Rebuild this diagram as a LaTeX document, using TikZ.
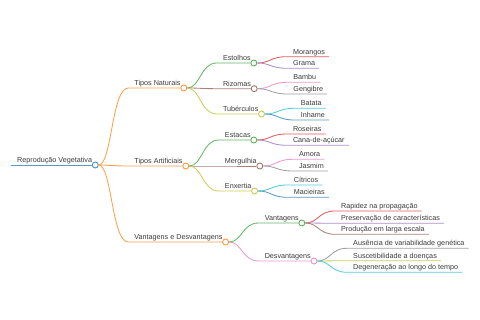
\documentclass[tikz,border=0pt]{standalone}
\usepackage{fontspec}
\setmainfont{Liberation Sans}
\usepackage{tikz}
\usetikzlibrary{positioning}
\definecolor{c0}{HTML}{1F77B4}
\definecolor{c1}{HTML}{FF7F0E}
\definecolor{c2}{HTML}{2CA02C}
\definecolor{c3}{HTML}{D62728}
\definecolor{c4}{HTML}{9467BD}
\definecolor{c5}{HTML}{8C564B}
\definecolor{c6}{HTML}{E377C2}
\definecolor{c7}{HTML}{7F7F7F}
\definecolor{c8}{HTML}{BCBD22}
\definecolor{c9}{HTML}{17BECF}
\definecolor{ink}{HTML}{3A3A3A}
\tikzset{
  lbl/.style={anchor=base west, inner sep=0pt, xshift=6pt, yshift=2.6pt, text=ink,
    font=\fontsize{7.2}{8}\selectfont},
  dot/.style={circle, draw=#1!80!white, fill=white, line width=0.9pt, minimum size=6pt,
    inner sep=0pt, xshift=3pt},
  br/.style={draw=#1!75!white, line width=0.85pt}
}

\begin{document}
\begin{tikzpicture}[x=1pt, y=1pt]
  \useasboundingbox (0,0) rectangle (480,320);
  \def\gap{33}  \def\bend{16.5}

  % root
  \coordinate (rv-s) at (11,155);
  \node[lbl] (rv) at (rv-s) {Reprodução Vegetativa};
  \node[dot=c0] (rv-o) at (rv.east |- rv-s) {};
  \draw[br=c0] (rv-s) -- (rv-o);

  % branches with a circle
  \foreach \p/\n/\c/\y/\t in {rv/tn/c1/232/Tipos Naturais, rv/ta/c1/154/Tipos Artificiais,
      rv/vd/c1/78/Vantagens e Desvantagens,
      tn/es/c2/257/Estolhos, tn/rz/c5/231.3/Rizomas, tn/tb/c8/206/Tubérculos,
      ta/ec/c2/180/Estacas, ta/mg/c5/154/Mergulhia, ta/ex/c8/129/Enxertia,
      vd/va/c2/97/Vantagens, vd/dv/c6/59/Desvantagens}{
    \coordinate[xshift=\gap pt] (\n-s) at (\p-o.center |- 0,\y);
    \node[lbl] (\n) at (\n-s) {\t};
    \node[dot=\c] (\n-o) at (\n.east |- \n-s) {};
    \draw[br=\c] (\p-o) .. controls +(\bend,0) and +(-\bend,0) .. (\n-s) -- (\n-o);
  }

  % leaves
  \foreach \p/\n/\c/\y/\t in {es/mo/c3/263.3/Morangos, es/gr/c4/251.7/Grama,
      rz/bb/c6/237.7/Bambu, rz/gg/c7/226/Gengibre,
      tb/bt/c9/211.7/Batata, tb/ih/c0/200/Inhame,
      ec/rs/c3/186/Roseiras, ec/cn/c4/174.7/Cana-de-açúcar,
      mg/am/c6/160.7/Amora, mg/js/c7/149/Jasmim,
      ex/ct/c9/135/Cítricos, ex/mc/c0/122.7/Macieiras,
      va/rp/c3/109/Rapidez na propagação, va/ps/c4/96.7/Preservação de características,
      va/pd/c5/85.7/Produção em larga escala,
      dv/au/c7/71.7/Ausência de variabilidade genética, dv/su/c8/59.3/Suscetibilidade a doenças,
      dv/dg/c9/47.7/Degeneração ao longo do tempo}{
    \coordinate[xshift=\gap pt] (\n-s) at (\p-o.center |- 0,\y);
    \node[lbl] (\n) at (\n-s) {\t};
    \coordinate[xshift=4pt] (\n-e) at (\n.east |- \n-s);
    \draw[br=\c] (\p-o) .. controls +(\bend,0) and +(-\bend,0) .. (\n-s) -- (\n-e);
  }
\end{tikzpicture}
\end{document}
